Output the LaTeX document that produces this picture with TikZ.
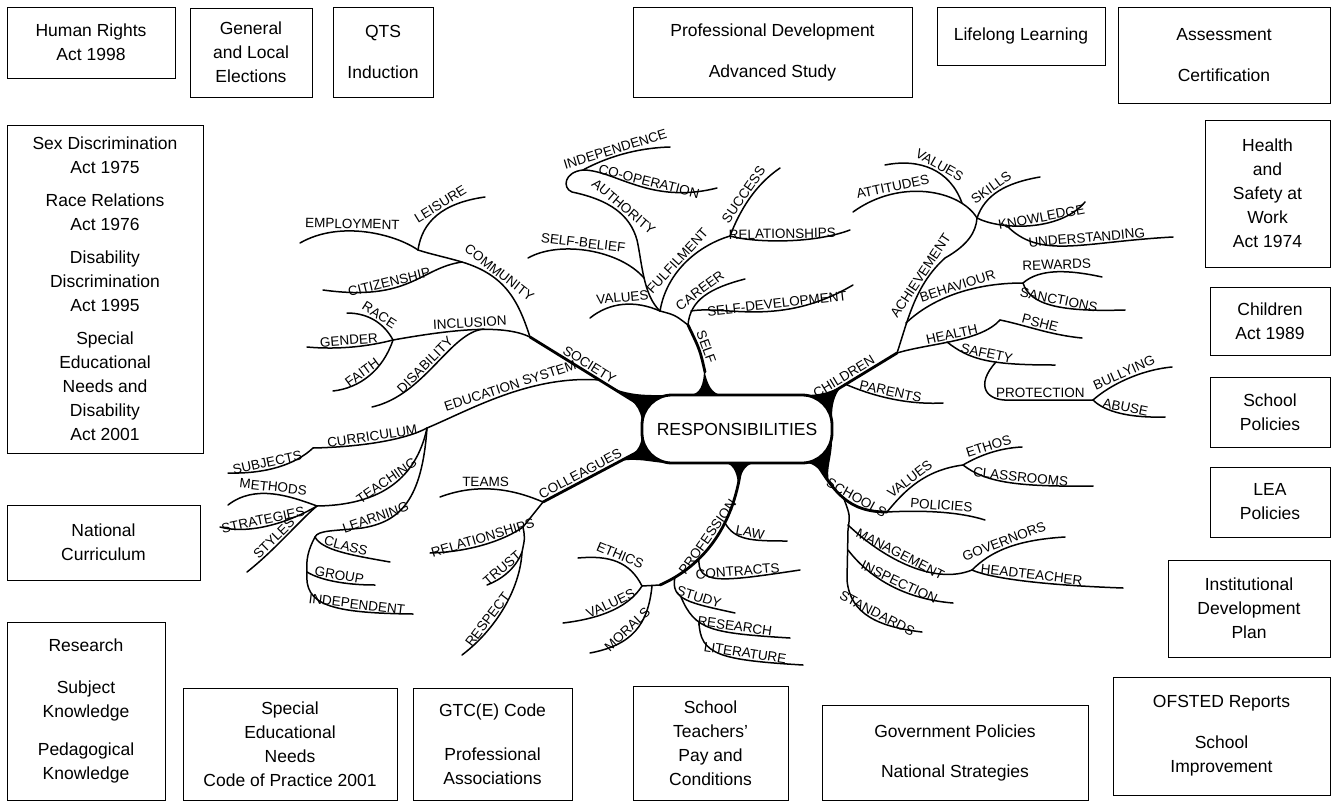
\documentclass[tikz,border=0pt]{standalone}
\usepackage{fontspec}
\setmainfont{Liberation Sans}
\usetikzlibrary{positioning}
\tikzset{
box/.style={draw, line width=0.8pt, align=center, inner sep=0pt, font=\fontsize{17.5}{24}\selectfont}, % the frames round the map
hub/.style={draw, line width=2.8pt, fill=white, rounded corners=30pt, minimum width=190pt, minimum height=68pt, font=\fontsize{17.5}{20}\selectfont},
lbl/.style={font=\fontsize{13.5}{14}\selectfont, sloped, above, inner sep=1.5pt}, % words along the branches
branch/.style={line width=1.5pt, line cap=round},
trunk/.style={line width=2.8pt, line cap=round},
wedge/.style={fill=black},
}
\begin{document}
\begin{tikzpicture}[x=1pt,y=-1pt]
\useasboundingbox (0,0) rectangle (1338,803);

% frames
\node[box, minimum width=168pt, minimum height=71pt] (hra) at (91,42.5) {Human Rights\\Act 1998};
\node[box, minimum width=122pt, minimum height=89pt] (elect) at (251,52.5) {General\\and Local\\Elections};
\node[box, minimum width=100pt, minimum height=90pt] (qts) at (383,52) {QTS\\[17pt]Induction};
\node[box, minimum width=279pt, minimum height=90pt] (profdev) at (772.5,52) {Professional Development\\[17pt]Advanced Study};
\node[box, minimum width=168pt, minimum height=58pt] (lifelong) at (1021,36) {Lifelong Learning};
\node[box, minimum width=212pt, minimum height=96pt] (assess) at (1224,55) {Assessment\\[17pt]Certification};

\node[box, minimum width=125pt, minimum height=147pt] (hsw) at (1267.5,193.5) {Health\\and\\Safety at\\Work\\Act 1974};
\node[box, minimum width=120pt, minimum height=68pt] (childact) at (1270,321) {Children\\Act 1989};
\node[box, minimum width=120pt, minimum height=70pt] (schpol) at (1270,412) {School\\Policies};
\node[box, minimum width=120pt, minimum height=70pt] (leapol) at (1270,502) {LEA\\Policies};
\node[box, minimum width=162pt, minimum height=97pt] (idp) at (1249,608.5) {Institutional\\Development\\Plan};
\node[box, minimum width=217pt, minimum height=118pt] (ofsted) at (1221.5,736) {OFSTED Reports\\[17pt]School\\Improvement};

\node[box, minimum width=196pt, minimum height=328pt] (acts) at (105,289) {Sex Discrimination\\Act 1975\\[9pt]Race Relations\\Act 1976\\[9pt]Disability\\Discrimination\\Act 1995\\[9pt]Special\\Educational\\Needs and\\Disability\\Act 2001};
\node[box, minimum width=193pt, minimum height=75pt] (natcur) at (103.5,542.5) {National\\Curriculum};
\node[box, minimum width=158pt, minimum height=178pt] (research) at (86,711) {Research\\[18pt]Subject\\Knowledge\\[14pt]Pedagogical\\Knowledge};

\node[box, minimum width=214pt, minimum height=112pt] (sen) at (290,744) {Special\\Educational\\Needs\\Code of Practice 2001};
\node[box, minimum width=159pt, minimum height=112pt] (gtc) at (492.5,744) {GTC(E) Code\\[20pt]Professional\\Associations};
\node[box, minimum width=155pt, minimum height=114pt] (stpc) at (710.5,743) {School\\Teachers'\\Pay and\\Conditions};
\node[box, minimum width=266pt, minimum height=95pt] (gov) at (955,752.5) {Government Policies\\[16pt]National Strategies};

% junctions and free ends
\coordinate (h-soc) at (648,410); \coordinate (h-col) at (645,448);
\coordinate (h-self) at (705,372); \coordinate (h-ch) at (815,403);
\coordinate (h-sch) at (813,457); \coordinate (h-prof) at (741,468);

\coordinate (j-soc) at (530,337); \coordinate (j-edu) at (600,380);
\coordinate (j-comm) at (418,250); \coordinate (j-cit) at (462,262);
\coordinate (j-inc) at (393,340); \coordinate (j-dis) at (484,329);
\coordinate (e-emp) at (300,243); \coordinate (e-leis) at (485,197);
\coordinate (e-cit) at (323,290); \coordinate (e-race) at (347,313);
\coordinate (e-gend) at (307,347); \coordinate (e-faith) at (333,391);
\coordinate (e-dis) at (372,407);
\coordinate (j-ed) at (427,428); \coordinate (j-cur) at (313,448);
\coordinate (e-subj) at (228,473); \coordinate (j-tea) at (317,506);
\coordinate (e-meth) at (228,505); \coordinate (e-strat) at (220,527);
\coordinate (e-styl) at (247,572); \coordinate (j-lea) at (315,537);
\coordinate (j-grp) at (307,572); \coordinate (e-class) at (390,562);
\coordinate (e-group) at (375,585); \coordinate (e-indpt) at (413,614);

\coordinate (j-col) at (543,502); \coordinate (e-teams) at (440,497);
\coordinate (j-rel) at (523,527); \coordinate (e-relcol) at (430,553);
\coordinate (j-tr) at (522,552); \coordinate (e-trust) at (487,585);
\coordinate (e-resp) at (462,655);

\coordinate (j-s1) at (688,325); \coordinate (j-s2) at (660,311);
\coordinate (e-vself) at (590,318); \coordinate (j-ind) at (583,170);
\coordinate (j-sb) at (644,278); \coordinate (e-sb) at (528,258);
\coordinate (e-indce) at (670,147); \coordinate (e-coop) at (717,188);
\coordinate (j-ful) at (730,236); \coordinate (e-succ) at (780,168);
\coordinate (e-relself) at (850,230); \coordinate (j-sd) at (691,311);
\coordinate (e-car) at (745,279); \coordinate (e-sd) at (853,285);

\coordinate (j-par) at (845,384); \coordinate (j-ch) at (897,353);
\coordinate (e-par) at (943,403); \coordinate (j-ach) at (977,218);
\coordinate (j-av) at (962,203); \coordinate (e-att) at (853,212);
\coordinate (e-aval) at (885,165); \coordinate (e-skill) at (1040,177);
\coordinate (e-know) at (1085,202); \coordinate (j-und) at (1006,225);
\coordinate (e-und) at (1173,237); \coordinate (j-beh) at (906,323);
\coordinate (j-b) at (1023,283); \coordinate (e-rew) at (1102,277);
\coordinate (e-sanc) at (1125,310); \coordinate (j-hea) at (1000,320);
\coordinate (j-hs) at (947,342); \coordinate (e-pshe) at (1082,338);
\coordinate (e-saf) at (1055,365); \coordinate (j-pr) at (996,362);
\coordinate (j-pb) at (1093,400); \coordinate (e-bully) at (1172,367);
\coordinate (e-abuse) at (1165,417);

\coordinate (j-m) at (844,499); \coordinate (j-sv) at (887,512);
\coordinate (j-eth) at (963,465); \coordinate (e-ethos) at (1022,447);
\coordinate (e-classr) at (1093,486); \coordinate (e-pol) at (985,520);
\coordinate (j-gov) at (972,570); \coordinate (e-gov) at (1065,537);
\coordinate (e-head) at (1123,588); \coordinate (j-insp) at (848,550);
\coordinate (e-insp) at (953,603); \coordinate (e-stand) at (922,632);

\coordinate (j-law) at (725,523); \coordinate (j-con) at (699,558);
\coordinate (j-stu) at (675,577); \coordinate (j-res) at (681,597);
\coordinate (j-lit) at (699,622); \coordinate (j-prof) at (660,585);
\coordinate (j-eth2) at (642,586); \coordinate (j-mor) at (652,586);
\coordinate (e-law) at (787,541); \coordinate (e-con) at (800,570);
\coordinate (e-stu) at (735,613); \coordinate (e-res) at (790,638);
\coordinate (e-lit) at (803,665); \coordinate (e-ethic) at (578,558);
\coordinate (e-pval) at (563,623); \coordinate (e-moral) at (590,653);

% roots of the main branches
\fill[wedge] (642,425) .. controls (642,408) and (632,398) .. (615,389) .. controls (635,396) and (650,395) .. (670,395) -- cycle;
\fill[wedge] (642,432) .. controls (642,448) and (635,455) .. (620,461) .. controls (638,458) and (650,462) .. (665,463) -- cycle;
\fill[wedge] (690,395) .. controls (700,394) and (704,385) .. (704,368) .. controls (707,385) and (712,394) .. (722,395) -- cycle;
\fill[wedge] (805,395) .. controls (820,395) and (830,392) .. (842,386) .. controls (834,395) and (832,405) .. (832,418) -- cycle;
\fill[wedge] (832,440) .. controls (832,458) and (826,468) .. (829,482) .. controls (820,470) and (815,463) .. (805,463) -- cycle;
\fill[wedge] (725,463) .. controls (734,464) and (738,475) .. (738,488) .. controls (740,475) and (744,464) .. (755,463) -- cycle;

% society
\draw[trunk] (j-soc) -- (h-soc) node[lbl,pos=.47] (society) {SOCIETY};
\draw[branch] (j-soc) .. controls (518,300) and (505,275) .. (j-cit) node[lbl,pos=.68] (community) {COMMUNITY} .. controls (445,257) and (430,254) .. (j-comm);
\draw[branch] (j-comm) .. controls (395,234) and (340,220) .. (e-emp) node[lbl,pos=.6] (employment) {EMPLOYMENT};
\draw[branch] (j-comm) .. controls (422,222) and (442,203) .. (e-leis) node[lbl,pos=.6] (leisure) {LEISURE};
\draw[branch] (j-cit) .. controls (420,268) and (410,302) .. (e-cit) node[lbl,pos=.65] (citizenship) {CITIZENSHIP};
\draw[branch] (j-soc) .. controls (505,325) and (460,328) .. (j-inc) node[lbl,pos=.55] (inclusion) {INCLUSION};
\draw[branch] (j-inc) .. controls (385,325) and (370,313) .. (e-race) node[lbl,pos=.5] (race) {RACE};
\draw[branch] (j-inc) .. controls (370,346) and (340,350) .. (e-gend) node[lbl,pos=.55] (gender) {GENDER};
\draw[branch] (j-inc) .. controls (383,370) and (360,388) .. (e-faith) node[lbl,pos=.55] (faith) {FAITH};
\draw[branch] (j-dis) .. controls (450,332) and (425,395) .. (e-dis) node[lbl,pos=.55] (disability) {DISABILITY};

\draw[branch] (j-edu) .. controls (530,375) and (470,410) .. (j-ed) node[lbl,pos=.45] (edsystem) {EDUCATION SYSTEM};
\draw[branch] (j-ed) .. controls (405,440) and (360,447) .. (j-cur) node[lbl,pos=.55] (curriculum) {CURRICULUM};
\draw[branch] (j-cur) .. controls (295,465) and (265,474) .. (e-subj) node[lbl,pos=.6] (subjects) {SUBJECTS};
\draw[branch] (j-ed) .. controls (418,470) and (390,505) .. (j-tea) node[lbl,pos=.55] (teaching) {TEACHING};
\draw[branch] (j-tea) .. controls (290,496) and (255,484) .. (e-meth) node[lbl,pos=.5] (methods) {METHODS};
\draw[branch] (j-tea) .. controls (290,522) and (250,535) .. (e-strat) node[lbl,pos=.55] (strategies) {STRATEGIES};
\draw[branch] (j-tea) .. controls (300,520) and (275,550) .. (e-styl) node[lbl,pos=.6] (styles) {STYLES};
\draw[branch] (j-ed) .. controls (422,500) and (400,522) .. (362,528) node[lbl,pos=.85] (learning) {LEARNING} .. controls (335,531) and (318,530) .. (j-lea);
\draw[branch] (j-lea) .. controls (322,550) and (350,555) .. (e-class) node[lbl,pos=.55] (class) {CLASS};
\draw[branch] (j-lea) .. controls (308,550) and (306,560) .. (j-grp) .. controls (304,605) and (330,613) .. (e-indpt) node[lbl,pos=.72] (independent) {INDEPENDENT};
\draw[branch] (j-grp) .. controls (320,580) and (345,585) .. (e-group) node[lbl,pos=.55] (group) {GROUP};

% colleagues
\draw[trunk] (j-col) -- (h-col) node[lbl,pos=.4] (colleagues) {COLLEAGUES};
\draw[branch] (j-col) .. controls (515,490) and (480,482) .. (e-teams) node[lbl,pos=.6] (teams) {TEAMS};
\draw[branch] (j-col) -- (j-rel) .. controls (505,540) and (470,552) .. (e-relcol) node[lbl,pos=.5] (rel-col) {RELATIONSHIPS};
\draw[branch] (j-rel) .. controls (525,538) .. (j-tr) .. controls (515,570) and (500,580) .. (e-trust) node[lbl,pos=.5] (trust) {TRUST};
\draw[branch] (j-tr) .. controls (520,590) and (495,630) .. (e-resp) node[lbl,pos=.65] (respect) {RESPECT};

% self
\draw[trunk] (h-self) .. controls (700,350) .. (j-s1) node[lbl,pos=.5] (self) {SELF};
\draw[branch] (j-s1) .. controls (675,315) .. (j-s2);
\draw[branch] (j-s2) .. controls (635,300) and (610,302) .. (e-vself) node[lbl,pos=.5] (values-self) {VALUES};
\draw[branch] (j-s2) .. controls (643,295) and (642,262) .. (637,240) .. controls (630,215) and (610,200) .. (572,192) node[lbl,pos=.45] (authority) {AUTHORITY} .. controls (562,188) and (564,172) .. (j-ind);
\draw[branch] (j-sb) .. controls (620,250) and (560,240) .. (e-sb) node[lbl,pos=.55] (selfbelief) {SELF-BELIEF};
\draw[branch] (j-ind) .. controls (605,158) and (635,148) .. (e-indce) node[lbl,pos=.45] (independence) {INDEPENDENCE};
\draw[branch] (j-ind) .. controls (615,170) and (650,205) .. (e-coop) node[lbl,pos=.58] (cooperation) {CO-OPERATION};
\draw[branch] (j-s2) .. controls (667,270) and (700,245) .. (j-ful) node[lbl,pos=.45] (fulfilment) {FULFILMENT};
\draw[branch] (j-ful) .. controls (740,210) and (755,185) .. (e-succ) node[lbl,pos=.5] (success) {SUCCESS};
\draw[branch] (j-ful) .. controls (750,242) and (810,245) .. (e-relself) node[lbl,pos=.5] (rel-self) {RELATIONSHIPS};
\draw[branch] (j-s1) .. controls (690,300) and (710,288) .. (e-car) node[lbl,pos=.5] (career) {CAREER};
\draw[branch] (j-sd) .. controls (725,305) and (780,328) .. (e-sd) node[lbl,pos=.62] (selfdev) {SELF-DEVELOPMENT};

% children
\draw[trunk] (h-ch) -- (j-ch) node[lbl,pos=.4] (children) {CHILDREN};
\draw[branch] (j-par) .. controls (870,395) and (905,405) .. (e-par) node[lbl,pos=.5] (parents) {PARENTS};
\draw[branch] (j-ch) .. controls (908,320) and (915,285) .. (945,258) node[lbl,pos=.75] (achievement) {ACHIEVEMENT} .. controls (968,245) and (976,232) .. (j-ach);
\draw[branch] (j-ach) .. controls (960,190) and (900,178) .. (e-att) node[lbl,pos=.72] (attitudes) {ATTITUDES};
\draw[branch] (j-av) .. controls (950,170) and (920,158) .. (e-aval) node[lbl,pos=.45] (values-ach) {VALUES};
\draw[branch] (j-ach) .. controls (985,195) and (1005,183) .. (e-skill) node[lbl,pos=.45] (skills) {SKILLS};
\draw[branch] (j-ach) .. controls (1000,230) and (1060,232) .. (e-know) node[lbl,pos=.6] (knowledge) {KNOWLEDGE};
\draw[branch] (j-und) .. controls (1040,260) and (1080,242) .. (e-und) node[lbl,pos=.62] (understanding) {UNDERSTANDING};
\draw[branch] (j-beh) .. controls (930,300) and (970,283) .. (j-b) node[lbl,pos=.55] (behaviour) {BEHAVIOUR};
\draw[branch] (j-b) .. controls (1040,268) and (1070,270) .. (e-rew) node[lbl,pos=.5] (rewards) {REWARDS};
\draw[branch] (j-b) .. controls (1030,305) and (1060,312) .. (e-sanc) node[lbl,pos=.55] (sanctions) {SANCTIONS};
\draw[branch] (j-ch) .. controls (930,343) and (980,342) .. (j-hea) node[lbl,pos=.5] (health) {HEALTH};
\draw[branch] (j-hea) .. controls (1025,325) and (1050,335) .. (e-pshe) node[lbl,pos=.5] (pshe) {PSHE};
\draw[branch] (j-hs) .. controls (970,360) and (990,365) .. (e-saf) node[lbl,pos=.5] (safety) {SAFETY};
\draw[branch] (j-pr) .. controls (975,385) and (985,402) .. (1012,400) -- (j-pb) node[lbl,pos=.35] (protection) {PROTECTION};
\draw[branch] (j-pb) .. controls (1110,385) and (1140,370) .. (e-bully) node[lbl,pos=.5] (bullying) {BULLYING};
\draw[branch] (j-pb) .. controls (1105,412) and (1130,418) .. (e-abuse) node[lbl,pos=.55] (abuse) {ABUSE};

% schools
\draw[trunk] (h-sch) .. controls (835,495) and (850,512) .. (j-sv) node[lbl,pos=.62] (schools) {SCHOOLS};
\draw[branch] (j-sv) .. controls (905,490) and (925,470) .. (j-eth) node[lbl,pos=.45] (values-sch) {VALUES};
\draw[branch] (j-eth) .. controls (980,455) and (1000,448) .. (e-ethos) node[lbl,pos=.5] (ethos) {ETHOS};
\draw[branch] (j-eth) .. controls (985,482) and (1015,487) .. (e-classr) node[lbl,pos=.6] (classrooms) {CLASSROOMS};
\draw[branch] (j-sv) .. controls (925,510) and (960,512) .. (e-pol) node[lbl,pos=.5] (policies) {POLICIES};
\draw[branch] (j-m) .. controls (850,515) .. (848,530) -- (847,580) .. controls (850,615) and (880,627) .. (e-stand) node[lbl,pos=.55] (standards) {STANDARDS};
\draw[branch] (848,525) .. controls (885,560) and (935,585) .. (j-gov) node[lbl,pos=.4] (management) {MANAGEMENT};
\draw[branch] (j-gov) .. controls (990,552) and (1015,540) .. (e-gov) node[lbl,pos=.5] (governors) {GOVERNORS};
\draw[branch] (j-gov) .. controls (990,578) and (1040,585) .. (e-head) node[lbl,pos=.55] (headteacher) {HEADTEACHER};
\draw[branch] (j-insp) .. controls (875,585) and (915,600) .. (e-insp) node[lbl,pos=.5] (inspection) {INSPECTION};

% profession
\draw[trunk] (h-prof) .. controls (735,515) and (712,562) .. (j-prof) node[lbl,pos=.55] (profession) {PROFESSION};
\draw[branch] (j-prof) -- (j-eth2);
\draw[branch] (j-law) .. controls (735,540) and (750,541) .. (e-law) node[lbl,pos=.55] (law) {LAW};
\draw[branch] (j-con) .. controls (697,585) and (720,582) .. (e-con) node[lbl,pos=.67] (contracts) {CONTRACTS};
\draw[branch] (j-stu) .. controls (670,600) and (690,603) .. (e-stu) node[lbl,pos=.65] (study) {STUDY};
\draw[branch] (j-res) .. controls (695,630) and (710,633) .. (e-res) node[lbl,pos=.7] (research-b) {RESEARCH};
\draw[branch] (j-lit) .. controls (700,655) and (720,660) .. (e-lit) node[lbl,pos=.7] (literature) {LITERATURE};
\draw[branch] (j-eth2) .. controls (630,562) and (610,555) .. (e-ethic) node[lbl,pos=.5] (ethics) {ETHICS};
\draw[branch] (j-eth2) .. controls (630,605) and (605,618) .. (e-pval) node[lbl,pos=.5] (values-prof) {VALUES};
\draw[branch] (j-mor) .. controls (648,625) and (632,645) .. (e-moral) node[lbl,pos=.55] (morals) {MORALS};

% centre
\node[hub] (resp) at (737,429) {RESPONSIBILITIES};
\end{tikzpicture}
\end{document}
